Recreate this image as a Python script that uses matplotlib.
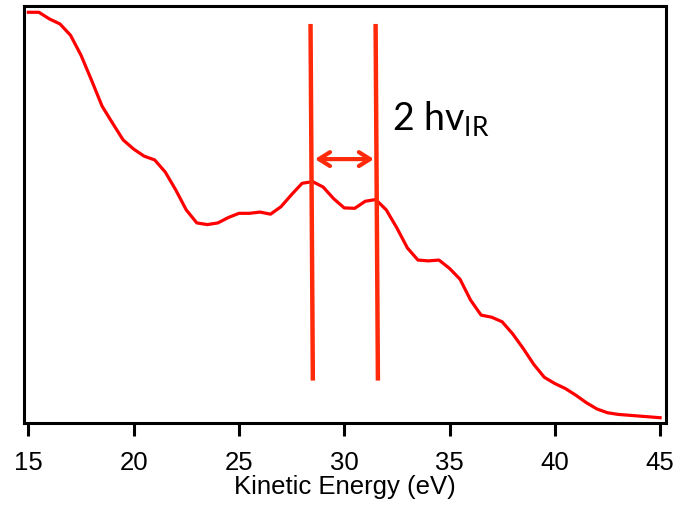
import numpy as np
import matplotlib
matplotlib.use("Agg")
import matplotlib.pyplot as plt

# photoelectron spectrum, intensity in arbitrary units (0-100)
energy = np.arange(15.0, 45.01, 0.5)
intensity = [98.4, 98.4, 96.8, 95.6, 92.9, 88.1, 82.1, 75.9, 71.8, 67.8,
             65.6, 63.9, 63.0, 60.1, 55.8, 51.0, 47.9, 47.5, 47.9, 49.2,
             50.2, 50.2, 50.5, 50.0, 51.8, 54.7, 57.4, 57.8, 56.5, 53.7,
             51.5, 51.4, 53.1, 53.5, 51.0, 46.7, 41.9, 39.0, 38.8, 39.0,
             37.0, 34.4, 29.4, 25.8, 25.3, 24.2, 21.3, 17.8, 14.0, 10.9,
             9.4, 8.2, 6.6, 4.8, 3.3, 2.4, 2.0, 1.8, 1.6, 1.4, 1.2]

# sideband markers (x at top, x at bottom) and their vertical extent
marker_x = [(28.40, 28.51), (31.49, 31.60)]
marker_y = (95.6, 10.1)
arrow_x = (28.61, 31.41)
arrow_y = 63.2
xticks = [15, 20, 25, 30, 35, 40, 45]

fig = plt.figure(figsize=(6.86, 5.09), dpi=100)
ax = fig.add_axes([0.0343, 0.1695, 0.9365, 0.8195])

ax.plot(energy, intensity, color="#ff0000", lw=2.3, solid_joinstyle="round")

for xt, xb in marker_x:
    ax.plot([xt, xb], [marker_y[0], marker_y[1]], color="#ff2a0a", lw=3.2,
            solid_capstyle="butt")

ax.annotate("", xy=(arrow_x[0], arrow_y), xytext=(arrow_x[1], arrow_y),
            arrowprops=dict(arrowstyle="<->,head_length=0.8,head_width=0.5",
                            color="#ff2a0a", lw=3.0, shrinkA=0, shrinkB=0))

ax.text(32.26, 70.1, r"2 hv$_\mathregular{IR}$", fontsize=27, family="Lato",
        ha="left", va="baseline")

ax.set_xlim(14.77, 45.28)
ax.set_ylim(0, 100)
ax.set_xticks(xticks)
ax.set_yticks([])
ax.tick_params(axis="x", direction="out", length=9.5, width=2.2, pad=11,
               labelsize=18.5)
for lab in ax.get_xticklabels():
    lab.set_family("Liberation Sans")
for sp in ax.spines.values():
    sp.set_linewidth(2.2)
ax.set_xlabel("Kinetic Energy (eV)", fontsize=18.5, family="Liberation Sans",
              labelpad=0)

fig.savefig("out.png", dpi=100)
